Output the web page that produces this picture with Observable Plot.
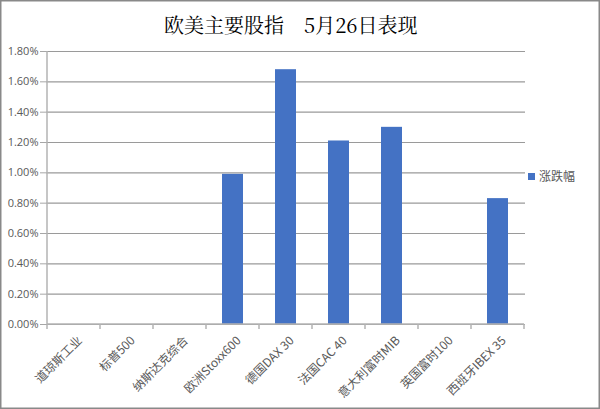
<!DOCTYPE html>
<html><head><meta charset="utf-8">
<script src="https://cdn.jsdelivr.net/npm/d3@7"></script>
<script src="https://cdn.jsdelivr.net/npm/@observablehq/plot@0.6"></script>
<style>
html,body{margin:0;padding:0;background:#fff;}
#wrap{position:relative;width:600px;height:409px;overflow:hidden;}
#wrap svg{position:absolute;left:0;top:0;}
#title{position:absolute;left:164px;top:10px;white-space:nowrap;font-family:"Noto Serif CJK SC","Noto Sans CJK SC",serif;font-size:20px;line-height:30px;color:#000;}
#legend{position:absolute;left:528px;top:167px;font-family:"Noto Sans CJK SC",sans-serif;font-size:12px;line-height:18px;color:#595959;display:flex;align-items:center;white-space:nowrap;}
#legend .sw{display:inline-block;width:7px;height:7px;background:#4472C4;margin-right:4px;}
</style></head><body>
<div id="wrap"></div>
<script>
const title = "欧美主要股指　5月26日表现";
const seriesName = "涨跌幅";
const categories = ["道琼斯工业","标普500","纳斯达克综合","欧洲Stoxx600","德国DAX 30","法国CAC 40","意大利富时MIB","英国富时100","西班牙IBEX 35"];
const values = [0, 0, 0, 0.99, 1.68, 1.21, 1.30, 0, 0.83];
const yTicks = [0, 0.2, 0.4, 0.6, 0.8, 1.0, 1.2, 1.4, 1.6, 1.8];

const data = categories.map((c, i) => ({cat: c, val: values[i]}));

const plot = Plot.plot({
  width: 600,
  height: 409,
  marginLeft: 46,
  marginRight: 75,
  marginTop: 51,
  marginBottom: 85,
  style: {background: "transparent", fontFamily: "'Noto Sans CJK SC', sans-serif"},
  x: {domain: categories, paddingInner: 0.6, paddingOuter: 0.3, label: null},
  y: {domain: [0, 1.8], label: null},
  marks: [
    Plot.gridY(yTicks, {stroke: "#9a9a9a", strokeOpacity: 1, strokeWidth: 1.2}),
    Plot.barY(data, {x: "cat", y: "val", fill: "#4472C4"}),
    Plot.axisY(yTicks, {tickFormat: d => d.toFixed(2) + "%", tickSize: 6, tickPadding: 2, stroke: "#a6a6a6", fill: "#595959", fontSize: 11, fontFamily: "'Open Sans', sans-serif", label: null}),
    Plot.axisX({tickSize: 0, tickRotate: -45, tickPadding: 14, dx: 6, fill: "#595959", fontSize: 12, label: null, textAnchor: "end"})
  ]
});

const wrap = document.getElementById("wrap");
wrap.appendChild(plot);

// axis lines, category boundary ticks and chart border using the plot's scales
const sx = plot.scale("x"), sy = plot.scale("y");
const svg = d3.select(plot);
const y0 = sy.apply(0), yTop = sy.apply(1.8);
const xs = categories.map(c => sx.apply(c) + sx.bandwidth / 2 - sx.step / 2);
xs.push(sx.apply(categories[categories.length - 1]) + sx.bandwidth / 2 + sx.step / 2);
const g = svg.append("g").attr("stroke", "#b3b3b3").attr("stroke-width", 1.5);
g.append("line").attr("x1", xs[0]).attr("x2", xs[0]).attr("y1", yTop).attr("y2", y0);
g.append("line").attr("x1", xs[0]).attr("x2", xs[xs.length - 1]).attr("y1", y0).attr("y2", y0);
xs.forEach(x => g.append("line").attr("x1", x).attr("x2", x).attr("y1", y0).attr("y2", y0 + 5));
svg.append("rect").attr("x", 0.75).attr("y", 0.75).attr("width", 598.5).attr("height", 407.5)
  .attr("fill", "none").attr("stroke", "#898989").attr("stroke-width", 1.5);

const t = document.createElement("div");
t.id = "title"; t.textContent = title; wrap.appendChild(t);
const lg = document.createElement("div");
lg.id = "legend";
lg.innerHTML = '<span class="sw"></span><span></span>';
lg.lastChild.textContent = seriesName;
wrap.appendChild(lg);
</script>
</body></html>
